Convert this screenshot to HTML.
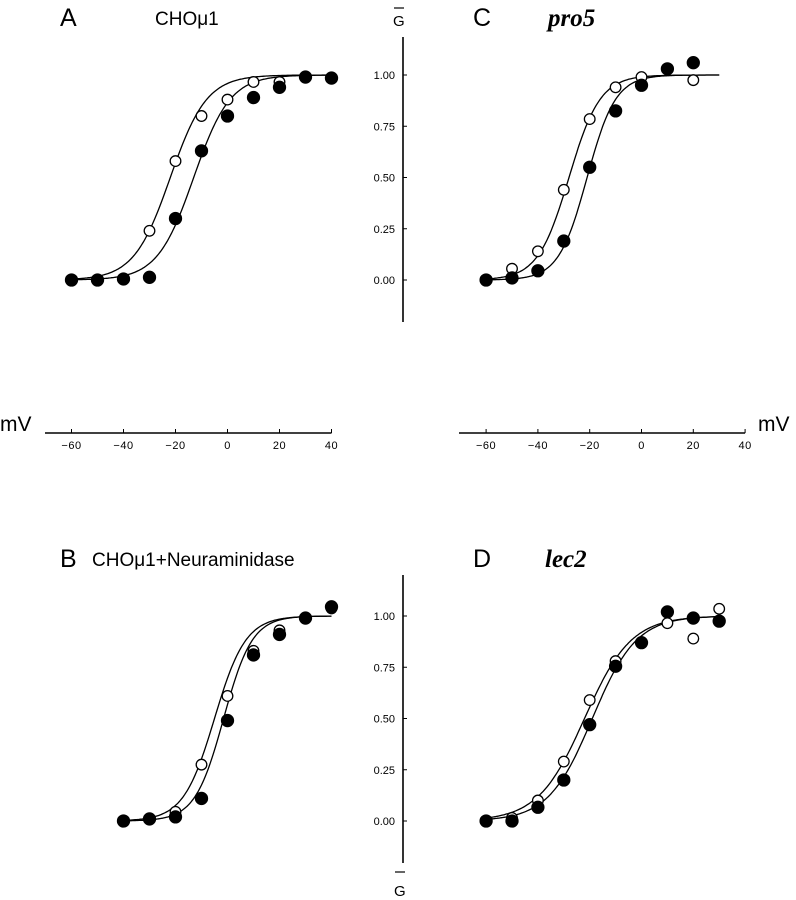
<!DOCTYPE html>
<html><head><meta charset="utf-8"><style>
html,body{margin:0;padding:0;background:#fff;}
svg{display:block;font-family:"Liberation Sans",sans-serif;}
</style></head><body>
<svg id="fig" width="796" height="900" viewBox="0 0 796 900" xmlns="http://www.w3.org/2000/svg">
<g id="static">
  <text x="60" y="26" font-size="25">A</text>
  <text x="155" y="25" font-size="19">CHOμ1</text>
  <text x="473" y="26" font-size="25">C</text>
  <text x="548" y="26" font-size="25" font-family="Liberation Serif, serif" font-weight="bold" font-style="italic">pro5</text>
  <text x="60" y="567" font-size="25">B</text>
  <text x="92" y="566" font-size="19">CHOμ1+Neuraminidase</text>
  <text x="473" y="567" font-size="25">D</text>
  <text x="545" y="567" font-size="25" font-family="Liberation Serif, serif" font-weight="bold" font-style="italic">lec2</text>
  <text x="393" y="26" font-size="15">G</text>
  <line x1="394" y1="8" x2="404" y2="8" stroke="#000" stroke-width="1.2"/>
  <text x="394" y="896" font-size="15">G</text>
  <line x1="395" y1="872" x2="405" y2="872" stroke="#000" stroke-width="1.2"/>
  <text x="0" y="431" font-size="21">mV</text>
  <text x="758" y="431" font-size="21">mV</text>
</g>
<g id="axes"></g>
<g id="marks"></g>
</svg>
<script>
// Tick data
const xTicks = [-60, -40, -20, 0, 20, 40];
const yTicks = [0, 0.25, 0.5, 0.75, 1.0];
const yTickLabels = ["0.00", "0.25", "0.50", "0.75", "1.00"];
// Panel A
const aOpenV = [-30, -20, -10, 0, 10, 20];
const aOpenG = [0.24, 0.58, 0.80, 0.88, 0.966, 0.966];
const aFillV = [-60, -50, -40, -30, -20, -10, 0, 10, 20, 30, 40];
const aFillG = [0, 0, 0.005, 0.013, 0.30, 0.63, 0.80, 0.89, 0.94, 0.99, 0.985];
const aFitOpen = [-22, 7];
const aFitFill = [-13, 7];
// Panel B
const bOpenV = [-20, -10, 0, 10, 20, 30, 40];
const bOpenG = [0.045, 0.275, 0.61, 0.83, 0.93, 0.99, 1.037];
const bFillV = [-40, -30, -20, -10, 0, 10, 20, 30, 40];
const bFillG = [0, 0.01, 0.02, 0.11, 0.49, 0.81, 0.91, 0.99, 1.045];
const bFitOpen = [-5, 6];
const bFitFill = [-1.5, 5.5];
// Panel C
const cOpenV = [-50, -40, -30, -20, -10, 0, 20];
const cOpenG = [0.055, 0.14, 0.44, 0.785, 0.94, 0.99, 0.975];
const cFillV = [-60, -50, -40, -30, -20, -10, 0, 10, 20];
const cFillG = [0, 0.01, 0.045, 0.19, 0.55, 0.825, 0.95, 1.03, 1.06];
const cFitOpen = [-28, 6];
const cFitFill = [-21, 5.5];
// Panel D
const dOpenV = [-50, -40, -30, -20, -10, 10, 20, 30];
const dOpenG = [0.015, 0.10, 0.29, 0.59, 0.78, 0.965, 0.89, 1.035];
const dFillV = [-60, -50, -40, -30, -20, -10, 0, 10, 20, 30];
const dFillG = [0, 0, 0.067, 0.20, 0.47, 0.755, 0.87, 1.02, 0.99, 0.975];
const dFitOpen = [-22, 9];
const dFitFill = [-19, 8.5];

const NS = "http://www.w3.org/2000/svg";
const axesG = document.getElementById('axes');
const marksG = document.getElementById('marks');
function xL(v){ return 227.5 + v * 2.6; }
function xR(v){ return 641.5 + v * 2.59; }
function yT(g){ return 280 - g * 205; }
function yB(g){ return 821 - g * 205; }
function mk(tag, attrs, parent){
  const e = document.createElementNS(NS, tag);
  for (const k in attrs) e.setAttribute(k, attrs[k]);
  parent.appendChild(e);
  return e;
}
function boltz(v, p){ return 1 / (1 + Math.exp((p[0] - v) / p[1])); }

[[xL, 45, 'left'], [xR, 459, 'right']].forEach(([sx, x0, side]) => {
  const ax = mk('line', {x1: x0, y1: 433, x2: sx(40), y2: 433, stroke: '#000', 'stroke-width': 1.6}, axesG);
  
  
  xTicks.forEach(t => {
    mk('line', {x1: sx(t), y1: 433, x2: sx(t), y2: 429, stroke: '#000', 'stroke-width': 1}, axesG);
    const tx = mk('text', {x: sx(t), y: 449, 'font-size': 11, 'text-anchor': 'middle', 'letter-spacing': 0.5}, axesG);
    tx.textContent = t < 0 ? '\u2212' + Math.abs(t) : String(t);
    
    
  });
});
[[yT, 37, 322, 'top'], [yB, 575, 863, 'bottom']].forEach(([sy, y0, y1, side]) => {
  const ax = mk('line', {x1: 403, y1: y0, x2: 403, y2: y1, stroke: '#000', 'stroke-width': 1.6}, axesG);
  
  
  yTicks.forEach((t, i) => {
    mk('line', {x1: 403, y1: sy(t), x2: 407, y2: sy(t), stroke: '#000', 'stroke-width': 1}, axesG);
    const tx = mk('text', {x: 395, y: sy(t) + 4, 'font-size': 11, 'text-anchor': 'end'}, axesG);
    tx.textContent = yTickLabels[i];
    
    
  });
});

function curve(sx, sy, p, v0, v1, name){
  let d = '';
  for (let v = v0; v <= v1 + 0.001; v += 0.5) {
    d += (d ? 'L' : 'M') + sx(v).toFixed(1) + ',' + sy(boltz(v, p)).toFixed(1);
  }
  const path = mk('path', {d: d, fill: 'none', stroke: '#000', 'stroke-width': 1.3}, marksG);
  
  
}
function points(sx, sy, vs, gs, filled, name){
  vs.forEach((v, i) => {
    const c = mk('circle', {cx: sx(v), cy: sy(gs[i]), r: filled ? 6 : 5.3,
      fill: filled ? '#000' : '#fff', stroke: '#000', 'stroke-width': 1.3}, marksG);
    
    
  });
}
curve(xL, yT, aFitOpen, -60, 40, 'panel-a-fit-open');
curve(xL, yT, aFitFill, -60, 40, 'panel-a-fit-filled');
points(xL, yT, aOpenV, aOpenG, false, 'panel-a-open-point');
points(xL, yT, aFillV, aFillG, true, 'panel-a-filled-point');

curve(xL, yB, bFitOpen, -40, 40, 'panel-b-fit-open');
curve(xL, yB, bFitFill, -40, 40, 'panel-b-fit-filled');
points(xL, yB, bOpenV, bOpenG, false, 'panel-b-open-point');
points(xL, yB, bFillV, bFillG, true, 'panel-b-filled-point');

curve(xR, yT, cFitOpen, -60, 30, 'panel-c-fit-open');
curve(xR, yT, cFitFill, -60, 30, 'panel-c-fit-filled');
points(xR, yT, cOpenV, cOpenG, false, 'panel-c-open-point');
points(xR, yT, cFillV, cFillG, true, 'panel-c-filled-point');

curve(xR, yB, dFitOpen, -60, 30, 'panel-d-fit-open');
curve(xR, yB, dFitFill, -60, 30, 'panel-d-fit-filled');
points(xR, yB, dOpenV, dOpenG, false, 'panel-d-open-point');
points(xR, yB, dFillV, dFillG, true, 'panel-d-filled-point');
</script>
</body></html>
